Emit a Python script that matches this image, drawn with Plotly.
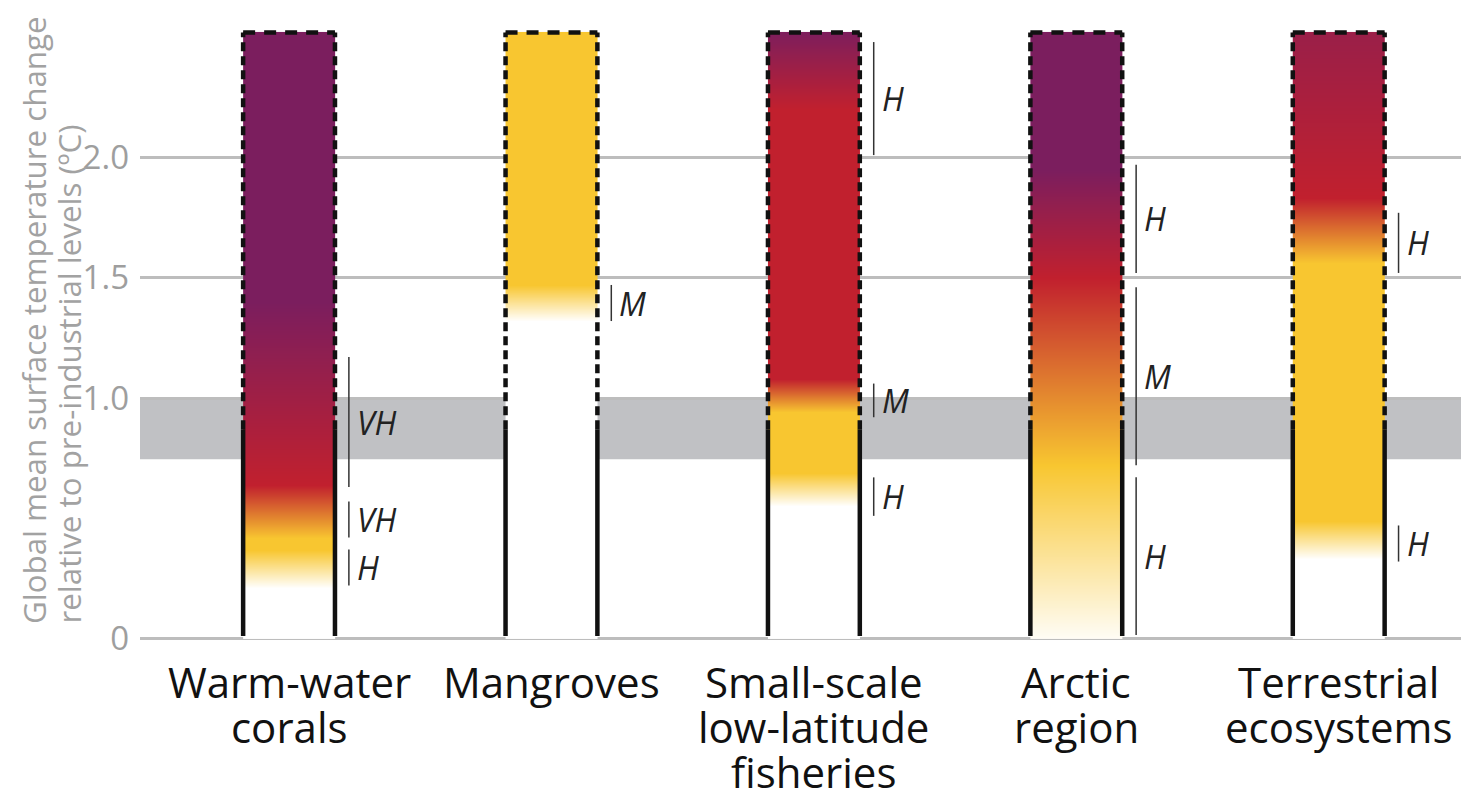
import plotly.graph_objects as go

# ---------------- data ----------------
categories = [["Warm-water", "corals"], ["Mangroves"], ["Small-scale", "low-latitude", "fisheries"],
              ["Arctic", "region"], ["Terrestrial", "ecosystems"]]

# risk level stops (0 = undetectable/white, 1 = moderate/yellow, 2 = high/red, 3 = very high/purple)
coral_temp = [0.0, 0.21, 0.37, 0.42, 0.64, 1.40, 2.52]
coral_level = [0, 0, 1, 1, 2, 3, 3]
mangrove_temp = [0.0, 1.32, 1.47, 2.52]
mangrove_level = [0, 0, 1, 1]
fishery_temp = [0.0, 0.55, 0.69, 0.94, 1.08, 2.20, 2.52]
fishery_level = [0, 0, 1, 1, 2, 2, 2.95]
arctic_temp = [0.0, 0.72, 1.50, 1.95, 2.52]
arctic_level = [0.05, 1, 2, 3, 3]
terrestrial_temp = [0.0, 0.33, 0.49, 1.56, 1.83, 2.52]
terrestrial_level = [0, 0, 1, 1, 2, 2.55]

bar_top = 2.52          # top of assessed range
observed_now = 0.87     # solid line up to present-day warming
band_range = [0.745, 1.0]

# confidence brackets: (category index, low, high, label)
conf_cat = [0, 0, 0, 1, 2, 2, 2, 3, 3, 3, 4, 4]
conf_low = [0.63, 0.42, 0.22, 1.32, 2.01, 0.92, 0.51, 1.52, 0.72, 0.015, 1.52, 0.32]
conf_high = [1.17, 0.57, 0.37, 1.47, 2.48, 1.06, 0.67, 1.97, 1.46, 0.67, 1.77, 0.47]
conf_label = ["VH", "VH", "H", "M", "H", "M", "H", "H", "M", "H", "H", "H"]

ytick_vals = [0, 1.0, 1.5, 2.0]
ytick_text = ["0", "1.0", "1.5", "2.0"]
ytitle_lines = ["Global mean surface temperature change", "relative to pre-industrial levels (ºC)"]

colorscale = [[0.0, "#ffffff"], [1 / 3, "#F8C630"], [2 / 3, "#C1202E"], [1.0, "#7B1E5E"]]

series = [(coral_temp, coral_level), (mangrove_temp, mangrove_level), (fishery_temp, fishery_level),
          (arctic_temp, arctic_level), (terrestrial_temp, terrestrial_level)]

# ---------------- layout constants ----------------
W, H = 1461, 803
ML, MR, MT, MB = 140, 0, 20, 163
PX_PER_DEG = 240.5
Y0_PX = 638.5
y_min = (Y0_PX - (H - MB)) / PX_PER_DEG
y_max = (Y0_PX - MT) / PX_PER_DEG
x_range = [-0.568, 4.466]
half_w = 0.175
eps = 0.004
conf_dx = 0.053

fig = go.Figure()

for i, (temps, levels) in enumerate(series):
    ys = [temps[0], temps[0] + eps] + list(temps[1:-1]) + [temps[-1] - eps, temps[-1]]
    zs = [levels[0], levels[0]] + list(levels[1:-1]) + [levels[-1], levels[-1]]
    fig.add_trace(go.Heatmap(
        x=[i - half_w, i, i + half_w],
        y=ys,
        z=[[v, v] for v in zs],
        zmin=0, zmax=3, colorscale=colorscale, zsmooth="best",
        showscale=False, hoverinfo="skip",
    ))

shapes = []
# grey band of present-day warming
shapes.append(dict(type="rect", xref="paper", x0=0, x1=1, yref="y", y0=band_range[0], y1=band_range[1],
                   fillcolor="#C0C1C4", line=dict(width=0), layer="below"))

edge_col = "#111111"
for i in range(len(categories)):
    for xe in (i - half_w, i + half_w):
        shapes.append(dict(type="line", x0=xe, x1=xe, y0=0.01, y1=observed_now,
                           line=dict(color=edge_col, width=4.5)))
        shapes.append(dict(type="line", x0=xe, x1=xe, y0=observed_now, y1=bar_top,
                           line=dict(color=edge_col, width=4.5, dash="9px,5px")))
    shapes.append(dict(type="line", x0=i - half_w, x1=i + half_w, y0=bar_top, y1=bar_top,
                       line=dict(color=edge_col, width=4.5, dash="12px,9px")))

annotations = []
for c, lo, hi, lab in zip(conf_cat, conf_low, conf_high, conf_label):
    xl = c + half_w + conf_dx
    shapes.append(dict(type="line", x0=xl, x1=xl, y0=lo, y1=hi, line=dict(color="#333333", width=1.5)))
    annotations.append(dict(x=xl, y=(lo + hi) / 2, xref="x", yref="y", text="<i>" + lab + "</i>",
                            showarrow=False, xanchor="left", yanchor="middle", xshift=6,
                            font=dict(family="Open Sans", size=32, color="#222222")))

# category labels (one annotation per line for tight leading)
line_pitch = 45
first_center = 41
for i, lines in enumerate(categories):
    for k, ln in enumerate(lines):
        annotations.append(dict(x=i, y=0, xref="x", yref="paper", text=ln, showarrow=False,
                                xanchor="center", yanchor="middle",
                                yshift=-(first_center + k * line_pitch),
                                font=dict(family="Open Sans", size=42, color="#111111")))

# y-axis title: two rotated lines, both starting at the same bottom position
title_centers_px = [34, 68]
for ln, cx in zip(ytitle_lines, title_centers_px):
    annotations.append(dict(x=0, y=0, xref="paper", yref="paper", text=ln,
                            textangle=-90, showarrow=False, xanchor="center", yanchor="bottom",
                            xshift=-(ML - cx), yshift=14,
                            font=dict(family="Open Sans", size=31.3, color="#A2A2A2")))

fig.update_layout(
    width=W, height=H,
    margin=dict(l=ML, r=MR, t=MT, b=MB, pad=0),
    paper_bgcolor="white", plot_bgcolor="white",
    showlegend=False,
    xaxis=dict(range=x_range, showgrid=False, zeroline=False, showticklabels=False, fixedrange=True),
    yaxis=dict(range=[y_min, y_max], tickvals=ytick_vals, ticktext=ytick_text, showgrid=True,
               gridcolor="#BDBDBD", gridwidth=3, zeroline=False, ticks="", ticklabelstandoff=10,
               tickfont=dict(family="Open Sans", size=33, color="#9E9E9E"), fixedrange=True),
    shapes=shapes,
    annotations=annotations,
)

fig.write_html("out.html", config={"displayModeBar": False})
